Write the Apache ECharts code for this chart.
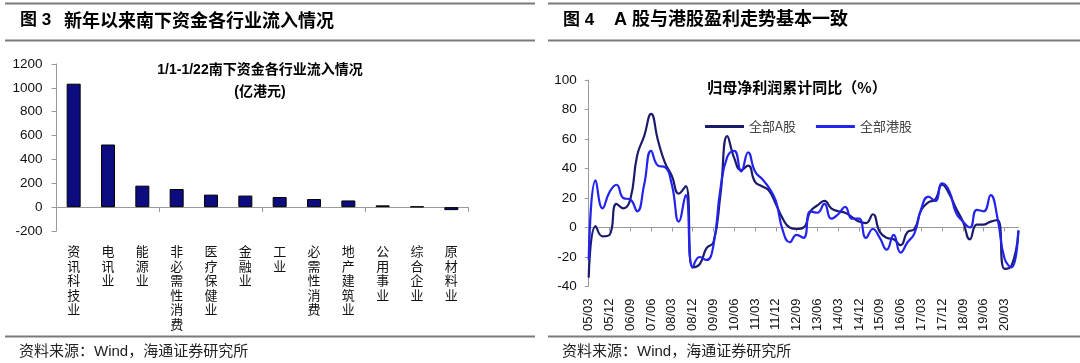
<!DOCTYPE html>
<html><head><meta charset="utf-8">
<script src="https://cdn.jsdelivr.net/npm/echarts@6/dist/echarts.min.js"></script>
<style>html,body{margin:0;padding:0;background:#fff}#c{width:1080px;height:363px}</style>
</head><body><div id="c"></div>
<script>
// ---- Left chart data: southbound inflow by industry, 1/1-1/22 (亿港元)
const industries = ['资讯科技业','电讯业','能源业','非必需性消费','医疗保健业','金融业','工业','必需性消费','地产建筑业','公用事业','综合企业','原材料业'];
const inflows = [1035, 525, 180, 152, 105, 97, 85, 68, 56, 15, 5, -25];
const leftTicks = [-200, 0, 200, 400, 600, 800, 1000, 1200];

// ---- Right chart data: 归母净利润累计同比 (%), quarterly
const quarters = ['05/03','05/06','05/09','05/12','06/03','06/06','06/09','06/12','07/03','07/06','07/09','07/12',
  '08/03','08/06','08/09','08/12','09/03','09/06','09/09','09/12','10/03','10/06','10/09','10/12',
  '11/03','11/06','11/09','11/12','12/03','12/06','12/09','12/12','13/03','13/06','13/09','13/12',
  '14/03','14/06','14/09','14/12','15/03','15/06','15/09','15/12','16/03','16/06','16/09','16/12',
  '17/03','17/06','17/09','17/12','18/03','18/06','18/09','18/12','19/03','19/06','19/09','19/12',
  '20/03','20/06','20/09'];
const aShares = [-34, 1, -6, -5, 16, 13, 19, 49, 62, 77, 59, 44,
  35, 23, 28, -27, -25, -14, -10, 22, 62, 47, 39, 42,
  31, 28, 25, 16, 6, 0, -1, 0, 11, 15, 18, 13,
  11, 10, 7, 4, 3, 9, -3, -7, -8, -12, -3, -1,
  12, 17, 19, 29, 23, 13, 4, -8, 2, 2, 4, 5,
  -28, -26, -2];
const hkShares = [-22, 32, 13, 24, 29, 20, 19, 11, 29, 52, 42, 41,
  29, 4, 22, -27, -20, -22, -12, 26, 48, 52, 38, 51,
  38, 33, 27, 18, -2, -10, -5, -7, 11, 10, 16, 6,
  9, 14, 6, 6, -7, -1, -7, -15, -5, -17, -10, -4,
  13, 21, 18, 30, 25, 10, 4, 0, 12, 11, 22, 6,
  -21, -27, -2];
const rightTicks = [-40, -20, 0, 20, 40, 60, 80, 100];

const CJK = '"Noto Sans CJK SC", sans-serif';
const LAT = '"Liberation Sans", Arial, "Noto Sans CJK SC", sans-serif';
const axisGray = '#9a9a9a';

const chart = echarts.init(document.getElementById('c'), null, {renderer: 'canvas'});

function txt(x, y, s, size, weight, opts) {
  opts = opts || {};
  return {type: 'text', x: x, y: y, silent: true,
    style: {text: s, fontSize: size, fontWeight: weight || 'normal', fontFamily: opts.family || CJK,
      fill: opts.fill || '#000', align: opts.align || 'left', verticalAlign: 'middle'}};
}
function rule(x1, x2, y) {
  return {type: 'line', silent: true, shape: {x1: x1, y1: y, x2: x2, y2: y}, style: {stroke: '#7a7a7a', lineWidth: 2}};
}

const option = {
  animation: false,
  backgroundColor: '#fff',
  grid: [
    {left: 56.5, top: 64, width: 412, height: 167},
    {left: 588.7, top: 80, width: 429.7, height: 206.5}
  ],
  legend: {
    data: ['全部A股', '全部港股'], left: 700, top: 115, icon: 'rect', itemWidth: 39, itemHeight: 3, itemGap: 20,
    textStyle: {fontSize: 13, color: '#444', fontFamily: CJK}
  },
  xAxis: [
    {type: 'category', gridIndex: 0, data: industries, position: 'bottom',
      axisLine: {onZero: true, lineStyle: {color: axisGray, width: 1}},
      axisTick: {show: true, length: 5, lineStyle: {color: axisGray}},
      axisLabel: {show: false}, splitLine: {show: false}},
    {type: 'category', gridIndex: 0, data: industries, position: 'bottom',
      axisLine: {show: false, onZero: false}, axisTick: {show: false}, splitLine: {show: false},
      axisLabel: {show: true, interval: 0, margin: 13, fontSize: 13, lineHeight: 14.5, color: '#111', fontFamily: CJK,
        verticalAlign: 'top', formatter: v => v.split('').join('\n')}},
    {type: 'category', gridIndex: 1, data: quarters, boundaryGap: false, position: 'bottom',
      axisLine: {onZero: true, lineStyle: {color: axisGray, width: 1}},
      axisTick: {show: true, interval: 2, length: 4, lineStyle: {color: axisGray}},
      axisLabel: {show: false}, splitLine: {show: false}},
    {type: 'category', gridIndex: 1, data: quarters, boundaryGap: false, position: 'bottom',
      axisLine: {show: false, onZero: false}, axisTick: {show: false}, splitLine: {show: false},
      axisLabel: {show: true, interval: 2, rotate: 90, margin: 12, fontSize: 13, color: '#111', fontFamily: LAT}}
  ],
  yAxis: [
    {type: 'value', gridIndex: 0, min: leftTicks[0], max: leftTicks[leftTicks.length - 1], interval: 200,
      axisLine: {show: true, lineStyle: {color: axisGray}},
      axisTick: {show: true, length: 5, lineStyle: {color: axisGray}},
      splitLine: {show: false},
      axisLabel: {margin: 14, fontSize: 13.5, color: '#111', fontFamily: LAT, formatter: v => String(v)}},
    {type: 'value', gridIndex: 1, min: rightTicks[0], max: rightTicks[rightTicks.length - 1], interval: 20,
      axisLine: {show: true, lineStyle: {color: axisGray}},
      axisTick: {show: true, length: 4, lineStyle: {color: axisGray}},
      splitLine: {show: false},
      axisLabel: {margin: 12, fontSize: 13.5, color: '#111', fontFamily: LAT, formatter: v => String(v)}}
  ],
  series: [
    {type: 'bar', xAxisIndex: 0, yAxisIndex: 0, data: inflows, barWidth: 14,
      itemStyle: {color: '#0c0c80', borderColor: '#000', borderWidth: 1}},
    {name: '全部A股', type: 'line', xAxisIndex: 2, yAxisIndex: 1, data: aShares, smooth: 0.5,
      symbol: 'none', lineStyle: {color: '#1b1b6b', width: 2.2}, itemStyle: {color: '#1b1b6b'}},
    {name: '全部港股', type: 'line', xAxisIndex: 2, yAxisIndex: 1, data: hkShares, smooth: 0.5,
      symbol: 'none', lineStyle: {color: '#2323f0', width: 2.2}, itemStyle: {color: '#2323f0'}}
  ],
  graphic: [
    rule(5, 535, 3.5), rule(5, 535, 40.5), rule(5, 535, 336.5),
    rule(548, 1080, 3.5), rule(548, 1080, 40.5), rule(548, 1080, 336.5),
    txt(20, 20, '图 3', 17, 'bold', {family: LAT}),
    txt(64, 20, '新年以来南下资金各行业流入情况', 18, 'bold'),
    txt(563, 20, '图 4', 17, 'bold', {family: LAT}),
    txt(614, 20, 'A 股与港股盈利走势基本一致', 18, 'bold', {family: LAT}),
    txt(260, 70, '1/1-1/22南下资金各行业流入情况', 14, 'bold', {family: LAT, align: 'center'}),
    txt(260, 92, '(亿港元)', 14, 'bold', {family: LAT, align: 'center'}),
    txt(797, 87, '归母净利润累计同比（%）', 15, 'bold', {align: 'center'}),
    txt(19, 352, '资料来源：Wind，海通证券研究所', 15, 'normal', {family: LAT, fill: '#222'}),
    txt(562, 352, '资料来源：Wind，海通证券研究所', 15, 'normal', {family: LAT, fill: '#222'})
  ]
};
chart.setOption(option);
</script>
</body></html>
